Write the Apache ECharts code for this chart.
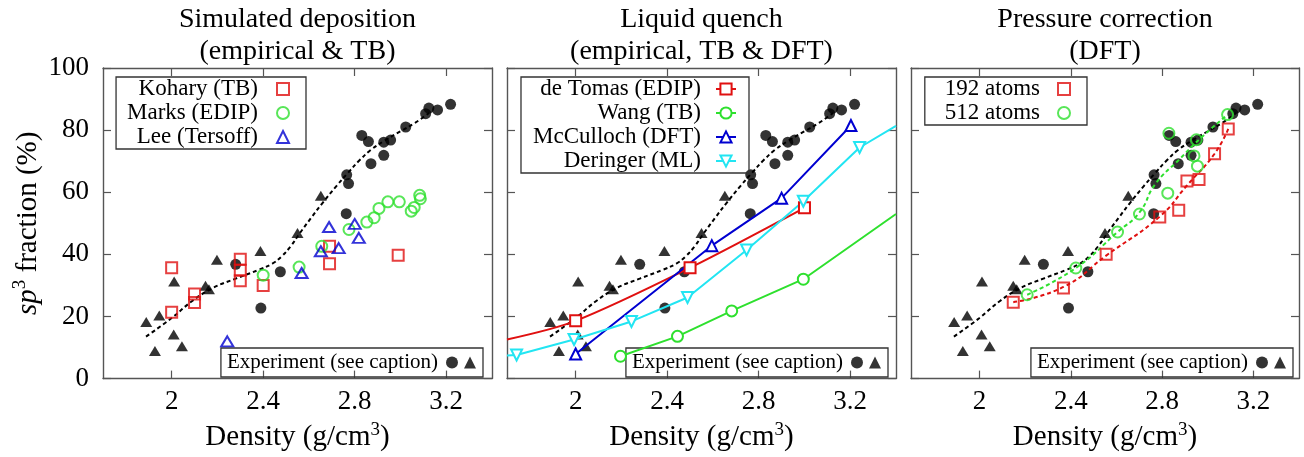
<!DOCTYPE html>
<html>
<head>
<meta charset="utf-8">
<script src="https://cdn.jsdelivr.net/npm/echarts@6/dist/echarts.min.js"></script>
<style>
  html, body { margin: 0; padding: 0; background: #fff; }
  #chart { width: 1304px; height: 457px; }
</style>
</head>
<body>
<div id="chart"></div>
<script>
// ---- data: density (g/cm^3) vs sp3 fraction (%) ----
const densityTicks = [2, 2.4, 2.8, 3.2];
const panelTitles = [
  'Simulated deposition\n(empirical & TB)',
  'Liquid quench\n(empirical, TB & DFT)',
  'Pressure correction\n(DFT)'
];

// experimental reference data (shown in every panel)
const expCircles = [
  [2.28, 36.8], [2.475, 34.4], [2.39, 22.7], [2.765, 65.6], [2.773, 62.8],
  [2.763, 53.1], [2.831, 78.3], [2.86, 76.3], [2.871, 69.2], [2.927, 76.1],
  [2.957, 76.8], [2.927, 71.9], [3.023, 81.0], [3.11, 85.3], [3.124, 87.1],
  [3.162, 86.5], [3.219, 88.3]
];
const expTriangles = [
  [1.889, 18.2], [1.946, 20.3], [1.927, 8.9], [2.009, 14.2], [2.045, 10.4],
  [2.011, 31.3], [2.148, 29.9], [2.163, 28.8], [2.198, 38.3], [2.388, 41.1],
  [2.55, 46.9], [2.652, 58.9]
];
const expFit = [
  [1.888, 13.5], [2.0, 19.5], [2.09, 25.0], [2.18, 29.2], [2.28, 32.2],
  [2.38, 35.0], [2.44, 37.0], [2.48, 39.3], [2.52, 42.6], [2.56, 46.8],
  [2.61, 51.8], [2.66, 56.6], [2.72, 62.0], [2.77, 66.2], [2.82, 70.2],
  [2.87, 73.6], [2.93, 76.6], [3.0, 79.6], [3.065, 82.4], [3.125, 85.5]
];

// simulated deposition
const kohary = [
  [2.0, 35.7], [2.0, 21.4], [2.1, 27.2], [2.1, 24.5], [2.3, 38.4], [2.3, 34.9],
  [2.3, 31.5], [2.4, 30.0], [2.69, 42.6], [2.69, 37.0], [2.99, 39.7]
];
const marks = [
  [2.40, 33.3], [2.557, 35.9], [2.656, 42.6], [2.775, 48.0], [2.853, 50.4],
  [2.885, 51.8], [2.906, 54.8], [2.945, 56.9], [2.995, 56.9], [3.047, 53.9],
  [3.06, 55.1], [3.084, 59.0], [3.087, 57.9]
];
const lee = [
  [2.243, 12.0], [2.568, 34.0], [2.652, 41.0], [2.688, 48.8], [2.73, 42.0],
  [2.8, 49.8], [2.818, 45.3]
];

// liquid quench (edge points are where a curve leaves the frame)
const deTomas = [[1.7, 12.6], [2.0, 18.6], [2.5, 35.7], [3.0, 55.0]];
const deTomasEdge = [0];
const wang = [[2.196, 7.2], [2.445, 13.6], [2.682, 21.8], [2.995, 32.0], [3.4, 53.0]];
const wangEdge = [4];
const mcculloch = [[2.0, 7.9], [2.595, 42.8], [2.9, 58.1], [3.203, 81.5]];
const deringer = [
  [1.7, 7.4], [1.742, 7.6], [1.993, 12.6], [2.244, 18.4], [2.489, 26.1],
  [2.747, 41.4], [2.995, 57.1], [3.241, 74.4], [3.4, 81.4]
];
const deringerEdge = [0, 8];

// pressure correction
const atoms192 = [
  [2.148, 24.6], [2.368, 29.2], [2.555, 40.0], [2.79, 52.0], [2.873, 54.2],
  [2.909, 63.6], [2.962, 64.1], [3.03, 72.4], [3.09, 80.4]
];
const atoms512 = [
  [2.209, 27.0], [2.422, 35.6], [2.605, 47.2], [2.701, 53.0], [2.825, 59.7],
  [2.83, 79.0], [2.94, 71.7], [2.95, 76.9], [2.955, 68.4], [3.087, 85.0]
];
const fit192 = [
  [2.148, 24.6], [2.368, 29.5], [2.555, 39.6], [2.79, 52.2], [2.908, 62.1],
  [3.03, 72.4], [3.09, 80.4]
];
const fit512 = [
  [2.209, 27.0], [2.422, 35.6], [2.605, 47.2], [2.701, 53.5], [2.77, 62.6],
  [2.876, 70.6], [2.963, 77.0], [3.087, 85.0]
];

// ---- styling ----
const SERIF = "'Liberation Serif', 'Times New Roman', serif";
const INK = '#000';
const FRAME = '#555';
const RED = '#e01010';
const GREEN = '#2ee02e';
const BLUE = '#0000d0';
const CYAN = '#22e5f2';
const EXP_NAME = 'Experiment (see caption)';
const EXP_TRI = 'Experiment (triangles)';

const panels = [
  { left: 103, width: 389 },
  { left: 507, width: 389 },
  { left: 911, width: 388 }
];
const PLOT_TOP = 68;
const PLOT_H = 313;

const chart = echarts.init(document.getElementById('chart'), null, { renderer: 'canvas' });

const grid = panels.map(p => ({ left: p.left, top: PLOT_TOP, width: p.width, height: PLOT_H }));

const nameRich = {
  t: { fontFamily: SERIF, fontSize: 29, color: INK, lineHeight: 34 },
  i: { fontFamily: SERIF, fontSize: 29, color: INK, fontStyle: 'italic', lineHeight: 34 },
  s: { fontFamily: SERIF, fontSize: 19, color: INK, verticalAlign: 'top', lineHeight: 22 }
};

function xAxisFor(i, pos) {
  const bottom = pos === 'bottom';
  return {
    type: 'value', gridIndex: i, position: pos, min: 1.7, max: 3.4,
    axisLine: { show: true, onZero: false, lineStyle: { color: FRAME, width: 1.4 } },
    axisTick: { show: true, inside: true, length: 8, customValues: densityTicks,
      lineStyle: { color: FRAME, width: 1.2 } },
    axisLabel: { show: bottom, customValues: densityTicks, margin: 10,
      fontFamily: SERIF, fontSize: 27, color: INK, formatter: v => String(v) },
    splitLine: { show: false },
    name: bottom ? '{t|Density (g/cm}{s|3}{t|)}' : '',
    nameLocation: 'middle', nameGap: 39,
    nameTextStyle: { rich: nameRich }
  };
}
function yAxisFor(i, pos) {
  const left = pos === 'left';
  const labelled = left && i === 0;
  return {
    type: 'value', gridIndex: i, position: pos, min: 0, max: 100, interval: 20,
    axisLine: { show: true, onZero: false, lineStyle: { color: FRAME, width: 1.4 } },
    axisTick: { show: true, inside: true, length: 8, lineStyle: { color: FRAME, width: 1.2 } },
    axisLabel: { show: labelled, margin: 14, fontFamily: SERIF, fontSize: 27, color: INK },
    splitLine: { show: false },
    name: labelled ? '{i|sp}{s|3}{t| fraction (%)}' : '',
    nameLocation: 'middle', nameGap: 58,
    nameTextStyle: { rich: nameRich }
  };
}

const xAxis = [], yAxis = [];
panels.forEach((p, i) => {
  xAxis.push(xAxisFor(i, 'bottom'), xAxisFor(i, 'top'));
  yAxis.push(yAxisFor(i, 'left'), yAxisFor(i, 'right'));
});

function hollowScatter(name, i, data, symbol, color, size) {
  return {
    type: 'scatter', name, xAxisIndex: 2 * i, yAxisIndex: 2 * i, data,
    symbol, symbolSize: size, z: 4,
    itemStyle: { color: 'rgba(255,255,255,0)', borderColor: color, borderWidth: 2 }
  };
}
function markerLine(name, data, edge, symbol, color, extra) {
  return Object.assign({
    type: 'line', name, xAxisIndex: 2, yAxisIndex: 2,
    data: data.map((d, k) => edge.indexOf(k) >= 0 ? { value: d, symbol: 'none' } : d),
    symbol, symbolSize: 11, showAllSymbol: true, z: 4,
    lineStyle: { color, width: 2 }, itemStyle: { color }
  }, extra || {});
}

const series = [];
panels.forEach((p, i) => {
  series.push(
    { type: 'scatter', name: EXP_NAME, xAxisIndex: 2 * i, yAxisIndex: 2 * i, data: expCircles,
      symbol: 'circle', symbolSize: 11, itemStyle: { color: '#000' }, z: 2 },
    { type: 'scatter', name: EXP_TRI, xAxisIndex: 2 * i, yAxisIndex: 2 * i, data: expTriangles,
      symbol: 'triangle', symbolSize: [12, 10], itemStyle: { color: '#000' }, z: 2 },
    { type: 'line', name: 'Experimental fit', xAxisIndex: 2 * i, yAxisIndex: 2 * i, data: expFit,
      smooth: 0.4, symbol: 'none', z: 3,
      lineStyle: { color: '#000', width: 2, type: [4, 3] } }
  );
});

series.push(
  hollowScatter('Kohary (TB)', 0, kohary, 'rect', RED, 11),
  hollowScatter('Marks (EDIP)', 0, marks, 'circle', GREEN, 11),
  hollowScatter('Lee (Tersoff)', 0, lee, 'triangle', BLUE, [12, 10]),

  markerLine('de Tomas (EDIP)', deTomas, deTomasEdge, 'emptyRect', RED, { smooth: 0.3 }),
  markerLine('Wang (TB)', wang, wangEdge, 'emptyCircle', GREEN),
  markerLine('McCulloch (DFT)', mcculloch, [], 'emptyTriangle', BLUE),
  markerLine('Deringer (ML)', deringer, deringerEdge, 'emptyTriangle', CYAN, { symbolRotate: 180 }),

  { type: 'line', name: '192 atoms fit', xAxisIndex: 4, yAxisIndex: 4, data: fit192,
    smooth: true, symbol: 'none', z: 3, lineStyle: { color: RED, width: 2, type: [4, 3] } },
  { type: 'line', name: '512 atoms fit', xAxisIndex: 4, yAxisIndex: 4, data: fit512,
    smooth: true, symbol: 'none', z: 3, lineStyle: { color: GREEN, width: 2, type: [4, 3] } },
  hollowScatter('192 atoms', 2, atoms192, 'rect', RED, 11),
  hollowScatter('512 atoms', 2, atoms512, 'circle', GREEN, 11)
);

const legendBase = {
  orient: 'vertical', align: 'right', itemGap: 0, selectedMode: false,
  borderColor: '#333', borderWidth: 1.3, backgroundColor: 'rgba(255,255,255,0)'
};
const legend = [
  Object.assign({}, legendBase, {
    right: 998, top: 77, padding: [0, 16, 0, 11], itemWidth: 12, itemHeight: 12,
    data: ['Kohary (TB)', 'Marks (EDIP)', 'Lee (Tersoff)'],
    textStyle: { fontFamily: SERIF, fontSize: 23, color: INK, lineHeight: 24, padding: [0, 14, 0, 0] }
  }),
  Object.assign({}, legendBase, {
    right: 555, top: 77, padding: [0, 12, 0, 12], itemWidth: 20, itemHeight: 14,
    data: ['de Tomas (EDIP)', 'Wang (TB)', 'McCulloch (DFT)', 'Deringer (ML)'],
    textStyle: { fontFamily: SERIF, fontSize: 23, color: INK, lineHeight: 24, padding: [0, 10, 0, 0] }
  }),
  Object.assign({}, legendBase, {
    right: 217, top: 77, padding: [0, 16, 0, 20], itemWidth: 12, itemHeight: 12,
    data: ['192 atoms', '512 atoms'],
    textStyle: { fontFamily: SERIF, fontSize: 23, color: INK, lineHeight: 24, padding: [0, 13, 0, 0] }
  })
];
[821, 416, 11].forEach(r => {
  legend.push(Object.assign({}, legendBase, {
    orient: 'horizontal', right: r, top: 348, padding: [3, 7, 3, 6],
    itemWidth: 12, itemHeight: 12, itemGap: 1,
    data: [{ name: EXP_NAME }, { name: EXP_TRI, textStyle: { padding: 0 } }],
    formatter: n => (n === EXP_TRI ? '' : n),
    textStyle: { fontFamily: SERIF, fontSize: 21, color: INK, lineHeight: 23, padding: [0, 3, 0, 0] }
  }));
});

const centers = panels.map(p => p.left + p.width / 2);
const title = panelTitles.map((t, i) => ({
  text: t, left: centers[i], top: 4, textAlign: 'center', padding: 0,
  textStyle: { fontFamily: SERIF, fontSize: 28, fontWeight: 'normal', color: INK, lineHeight: 32 }
}));

chart.setOption({
  animation: false,
  backgroundColor: '#fff',
  title, grid, xAxis, yAxis, legend, series
});
</script>
</body>
</html>
